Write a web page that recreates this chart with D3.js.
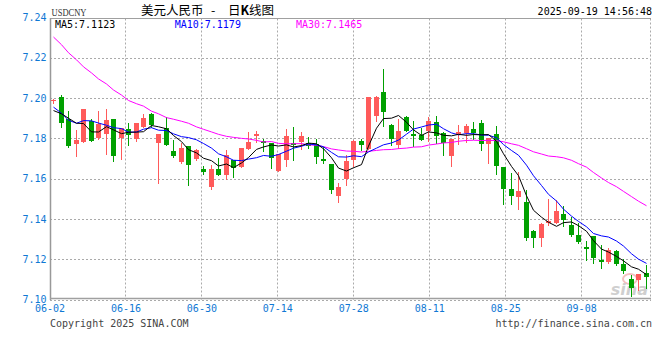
<!DOCTYPE html>
<html><head><meta charset="utf-8">
<script src="https://cdn.jsdelivr.net/npm/d3@7"></script>
<style>html,body{margin:0;padding:0;background:#fff;} svg{display:block;}</style>
</head><body>
<svg id="c" width="660" height="360"></svg>
<script>
const dates = ["06-02","06-03","06-04","06-05","06-06","06-09","06-10","06-11","06-12","06-13",
"06-16","06-17","06-18","06-19","06-20","06-23","06-24","06-25","06-26","06-27",
"06-30","07-01","07-02","07-03","07-04","07-07","07-08","07-09","07-10","07-11",
"07-14","07-15","07-16","07-17","07-18","07-21","07-22","07-23","07-24","07-25",
"07-28","07-29","07-30","07-31","08-01","08-04","08-05","08-06","08-07","08-08",
"08-11","08-12","08-13","08-14","08-15","08-18","08-19","08-20","08-21","08-22",
"08-25","08-26","08-27","08-28","08-29","09-01","09-02","09-03","09-04","09-05",
"09-08","09-09","09-10","09-11","09-12","09-15","09-16","09-17","09-18","09-19"];
const xTickLabels = ["06-02","06-16","06-30","07-14","07-28","08-11","08-25","09-08"];
const yTicks = [7.10,7.12,7.14,7.16,7.18,7.20,7.22,7.24];

const openP = [7.1990,7.2003,7.1896,7.1772,7.1780,7.1888,7.1800,7.1823,7.1897,7.1800,
7.1846,7.1795,7.1856,7.1921,7.1776,7.1850,7.1735,7.1683,7.1763,7.1697,
7.1649,7.1558,7.1649,7.1619,7.1693,7.1660,7.1748,7.1811,7.1788,7.1776,
7.1640,7.1693,7.1779,7.1781,7.1776,7.1773,7.1698,7.1673,7.1516,7.1599,
7.1691,7.1788,7.1749,7.1909,7.2028,7.1868,7.1768,7.1906,7.1823,7.1815,
7.1835,7.1879,7.1826,7.1714,7.1817,7.1829,7.1847,7.1875,7.1771,7.1822,
7.1657,7.1550,7.1511,7.1482,7.1338,7.1305,7.1382,7.1380,7.1422,7.1372,
7.1322,7.1261,7.1317,7.1195,7.1185,7.1240,7.1178,7.1102,7.1099,7.1132];
const highP = [7.1993,7.2013,7.1937,7.1843,7.1947,7.1897,7.1937,7.1947,7.1897,7.1853,
7.1878,7.1878,7.1920,7.1926,7.1822,7.1905,7.1793,7.1779,7.1763,7.1748,
7.1664,7.1668,7.1702,7.1743,7.1693,7.1751,7.1834,7.1837,7.1798,7.1779,
7.1723,7.1847,7.1854,7.1830,7.1806,7.1798,7.1759,7.1673,7.1578,7.1718,
7.1793,7.1798,7.2005,7.2008,7.2146,7.1870,7.1897,7.1909,7.1888,7.1851,
7.1904,7.1912,7.1830,7.1798,7.1864,7.1870,7.1880,7.1892,7.1804,7.1862,
7.1657,7.1630,7.1635,7.1544,7.1346,7.1382,7.1500,7.1493,7.1463,7.1410,
7.1380,7.1289,7.1317,7.1273,7.1256,7.1248,7.1202,7.1124,7.1129,7.1173];
const lowP = [7.1975,7.1854,7.1758,7.1710,7.1780,7.1785,7.1798,7.1724,7.1690,7.1696,
7.1768,7.1787,7.1855,7.1855,7.1580,7.1768,7.1707,7.1677,7.1569,7.1693,
7.1624,7.1550,7.1619,7.1599,7.1610,7.1657,7.1745,7.1784,7.1735,7.1655,
7.1640,7.1665,7.1693,7.1748,7.1751,7.1677,7.1677,7.1528,7.1482,7.1569,
7.1661,7.1740,7.1749,7.1888,7.1859,7.1768,7.1752,7.1835,7.1760,7.1793,
7.1785,7.1777,7.1719,7.1661,7.1771,7.1784,7.1796,7.1740,7.1680,7.1622,
7.1473,7.1473,7.1448,7.1296,7.1260,7.1268,7.1371,7.1380,7.1364,7.1314,
7.1281,7.1198,7.1182,7.1157,7.1182,7.1173,7.1132,7.1016,7.1049,7.1058];
const closeP = [7.1992,7.1876,7.1760,7.1793,7.1947,7.1785,7.1873,7.1892,7.1714,7.1853,
7.1818,7.1878,7.1902,7.1868,7.1822,7.1768,7.1710,7.1751,7.1668,7.1743,
7.1635,7.1649,7.1619,7.1718,7.1652,7.1751,7.1784,7.1821,7.1779,7.1702,
7.1723,7.1814,7.1768,7.1814,7.1763,7.1707,7.1690,7.1544,7.1558,7.1690,
7.1788,7.1768,7.2003,7.2003,7.1929,7.1798,7.1835,7.1835,7.1813,7.1793,
7.1884,7.1810,7.1777,7.1798,7.1831,7.1859,7.1829,7.1771,7.1804,7.1665,
7.1548,7.1516,7.1541,7.1305,7.1305,7.1376,7.1390,7.1440,7.1397,7.1322,
7.1284,7.1251,7.1206,7.1188,7.1248,7.1177,7.1140,7.1058,7.1129,7.1112];

// moving-average values before enough closes are available
const ma5Lead = [7.1938,7.1922,7.1900,7.1875];
const ma10Lead = [7.1955,7.1925,7.1890,7.1875,7.1888,7.1887,7.1876,7.1865,7.1853];
const ma30Lead = [7.2303,7.2265,7.2225,7.2190,7.2155,7.2125,7.2095,7.2070,7.2040,7.2015,
7.1988,7.1972,7.1960,7.1935,7.1922,7.1903,7.1895,7.1885,7.1875,7.1857,
7.1845,7.1832,7.1820,7.1810,7.1805,7.1800,7.1797,7.1790,7.1782];

function movingAvg(n, lead){
  return closeP.map((c,i)=> i>=n-1 ? d3.mean(closeP.slice(i-n+1,i+1)) : lead[i]);
}
const ma5 = movingAvg(5, ma5Lead), ma10 = movingAvg(10, ma10Lead), ma30 = movingAvg(30, ma30Lead);

const L=50, R=650, T=17.5, B=299.5;
const mono = "'DejaVu Sans Mono', 'Liberation Mono', monospace";
const axisBlue = "#0f78d4";
const svg = d3.select("#c");
const N = dates.length;
const x = d3.scaleBand().domain(d3.range(N)).range([L-0.75, R-0.75]);
const gx = d3.scaleLinear().domain([0, N-1]).range([L, R]);
const y = d3.scaleLinear().domain([yTicks[0], yTicks[yTicks.length-1]]).range([B, T]);
const cx = i => Math.round(x(i) + x.bandwidth()/2);
const crisp = v => Math.round(v) + 0.5;

// horizontal grid
svg.append("g").selectAll("line").data(yTicks.slice(1,-1)).join("line")
  .attr("x1", L).attr("x2", R).attr("y1", d=>crisp(y(d))).attr("y2", d=>crisp(y(d)))
  .attr("stroke", "#aaa").attr("stroke-dasharray", "2,2");
// vertical grid
const tickIdx = xTickLabels.map(l => dates.indexOf(l));
svg.append("g").selectAll("line").data(tickIdx.slice(1)).join("line")
  .attr("x1", d=>crisp(gx(d)-0.5)).attr("x2", d=>crisp(gx(d)-0.5)).attr("y1", T+1).attr("y2", B)
  .attr("stroke", "#aaa").attr("stroke-dasharray", "2,2");
// right dotted edge
svg.append("line").attr("x1", R+0.5).attr("x2", R+0.5).attr("y1", T+1).attr("y2", B)
  .attr("stroke", "#aaa").attr("stroke-dasharray", "2,2");
// frame
svg.append("line").attr("x1", L).attr("x2", R+1).attr("y1", 18.5).attr("y2", 18.5).attr("stroke", "#a0a0a0");
svg.append("line").attr("x1", L+0.5).attr("x2", L+0.5).attr("y1", 18).attr("y2", 300).attr("stroke", "#999").attr("stroke-width", 1.5);
svg.append("line").attr("x1", L).attr("x2", R+1).attr("y1", 298.5).attr("y2", 298.5).attr("stroke", "#a0a0a0").attr("stroke-width", 1.5);
svg.append("line").attr("x1", L).attr("x2", R+1).attr("y1", 300.5).attr("y2", 300.5).attr("stroke", "#aaa").attr("stroke-dasharray", "2,2");

// watermark
const wm = svg.append("g");
wm.append("ellipse").attr("cx", 630).attr("cy", 279).attr("rx", 7).attr("ry", 5)
  .attr("fill", "none").attr("stroke", "#f4c0c0").attr("stroke-width", 2);
wm.append("text").attr("x", 648).attr("y", 295).attr("text-anchor", "end")
  .attr("font-family", "'DejaVu Sans', sans-serif").attr("font-style", "italic").attr("font-weight", "bold")
  .attr("font-size", 16).attr("fill", "#cfcfcf").text("sina");

// candles
const up = "#ff5a5a", down = "#00a000";
const cg = svg.append("g").attr("shape-rendering", "crispEdges");
const idx = d3.range(N);
cg.selectAll("line").data(idx).join("line")
  .attr("x1", i=>cx(i)+0.5).attr("x2", i=>cx(i)+0.5)
  .attr("y1", i=>Math.round(y(Math.max(highP[i], openP[i], closeP[i]))))
  .attr("y2", i=>Math.round(y(Math.min(lowP[i], openP[i], closeP[i])))+1)
  .attr("stroke", i=> closeP[i]>=openP[i] ? up : down);
cg.selectAll("rect").data(idx).join("rect")
  .attr("x", i=>cx(i)-2).attr("width", 5)
  .attr("y", i=>Math.round(y(Math.max(openP[i], closeP[i]))))
  .attr("height", i=>Math.max(1, Math.round(y(Math.min(openP[i], closeP[i]))) - Math.round(y(Math.max(openP[i], closeP[i])))))
  .attr("fill", i=> closeP[i]>=openP[i] ? up : down);

// moving averages
const line = d3.line().x((d,i)=>cx(i)+0.5).y(d=>y(d));
[[ma30,"#ff00ff"],[ma10,"#0000ff"],[ma5,"#000"]].forEach(([s,c])=>{
  svg.append("path").attr("d", line(s)).attr("fill","none").attr("stroke", c).attr("stroke-width", 1);
});

// y labels
svg.append("g").selectAll("text").data(yTicks).join("text")
  .attr("x", 46.5).attr("y", d=>y(d)+3.6).attr("text-anchor","end")
  .attr("font-family", mono).attr("font-size", 10).attr("fill", axisBlue)
  .text(d=>d3.format(".2f")(d));
// x labels
svg.append("g").selectAll("text").data(tickIdx).join("text")
  .attr("x", d=>gx(d)).attr("y", 312).attr("text-anchor","middle")
  .attr("font-family", mono).attr("font-size", 10).attr("fill", axisBlue)
  .text((d,k)=>xTickLabels[k]);

// header
svg.append("text").attr("x", 51.5).attr("y", 16).attr("font-family", "'Liberation Serif', serif")
  .attr("font-size", 10).attr("fill", "#333").attr("textLength", 35).attr("lengthAdjust","spacingAndGlyphs").text("USDCNY");
const title = svg.append("text").attr("y", 15).attr("font-family", "'Noto Sans CJK SC', sans-serif")
  .attr("font-size", 12.5).attr("fill", "#000");
title.append("tspan").attr("x", 141).text("美元人民币");
title.append("tspan").attr("x", 211).text("-");
title.append("tspan").attr("x", 228).text("日");
title.append("tspan").attr("font-weight","bold").text("K");
title.append("tspan").text("线图");
svg.append("text").attr("x", 652).attr("y", 15.3).attr("text-anchor","end")
  .attr("font-family", mono).attr("font-size", 10).attr("fill","#000").text("2025-09-19 14:56:48");
const f4 = d3.format(".4f");
svg.append("text").attr("x", 55).attr("y", 27.6).attr("font-family", mono).attr("font-size", 10)
  .attr("fill", "#000").text("MA5:" + f4(ma5[N-1]));
svg.append("text").attr("x", 174.7).attr("y", 27.6).attr("font-family", mono).attr("font-size", 10)
  .attr("fill", "#0000ff").text("MA10:" + f4(ma10[N-1]));
svg.append("text").attr("x", 296).attr("y", 27.6).attr("font-family", mono).attr("font-size", 10)
  .attr("fill", "#ff00ff").text("MA30:" + f4(ma30[N-1]));

// footer
svg.append("text").attr("x", 50).attr("y", 327).attr("font-family", mono).attr("font-size", 10)
  .attr("fill", "#444").text("Copyright 2025 SINA.COM");
svg.append("text").attr("x", 652).attr("y", 327).attr("text-anchor","end").attr("font-family", mono).attr("font-size", 10)
  .attr("fill", "#444").text("http://finance.sina.com.cn");
</script>
</body></html>
